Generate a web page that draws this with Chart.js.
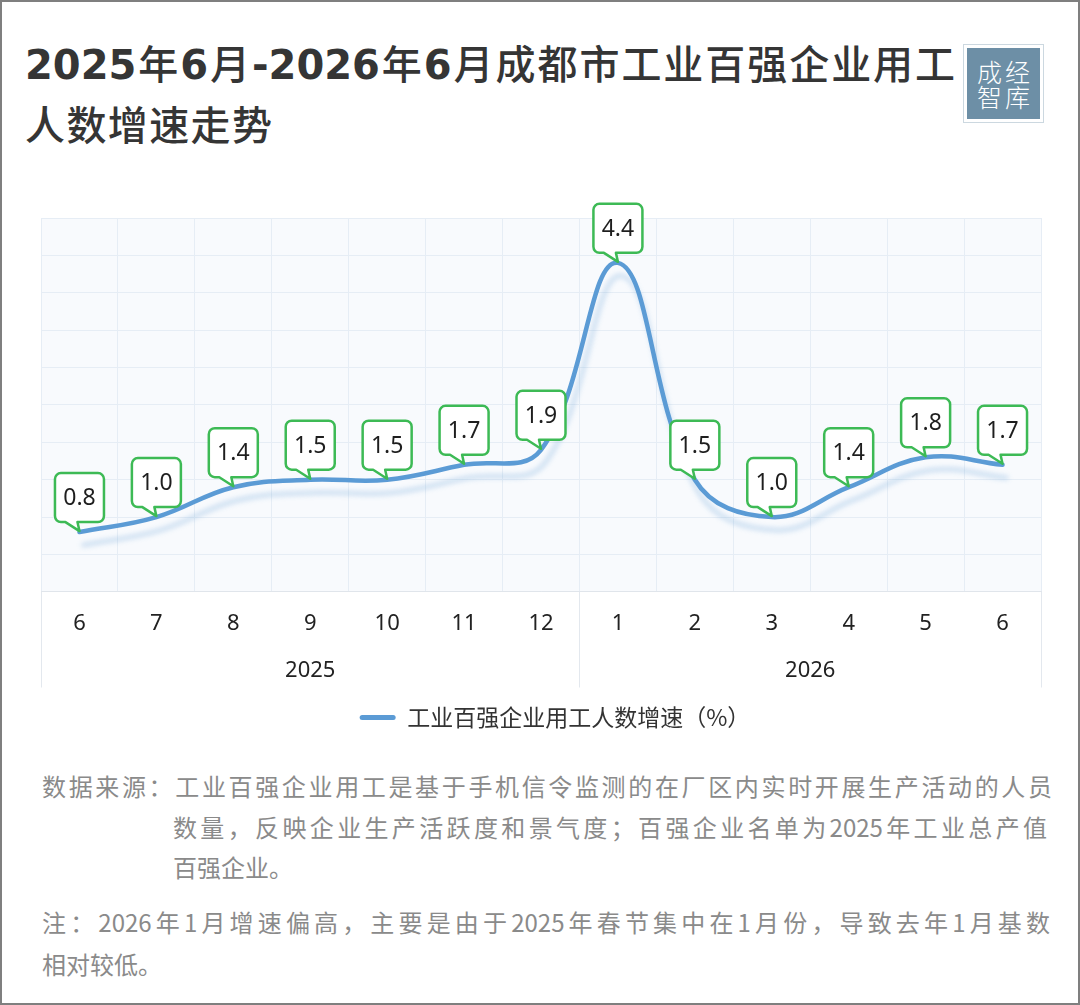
<!DOCTYPE html>
<html><head><meta charset="utf-8">
<script src="https://cdn.jsdelivr.net/npm/chart.js@4.4.1/dist/chart.umd.min.js"></script>
<style>
html,body{margin:0;padding:0;background:#fff;}
#frame{position:relative;width:1080px;height:1005px;overflow:hidden;background:#fff;font-family:"Noto Sans CJK SC",sans-serif;}
#border{position:absolute;left:0;top:0;width:1080px;height:1005px;box-sizing:border-box;border:2px solid #7f7f7f;pointer-events:none;}
.t{position:absolute;left:25px;font-weight:500;font-size:40px;line-height:40px;color:#353535;white-space:nowrap;text-align:justify;text-align-last:justify;font-family:"Noto Sans CJK SC",sans-serif;}
.t .d{font-family:"DejaVu Sans",sans-serif;font-weight:700;}
.n{position:absolute;font-size:24px;line-height:30px;color:#8a8a8a;white-space:nowrap;font-family:"Noto Sans CJK SC",sans-serif;}
.j{text-align:justify;text-align-last:justify;}
#logo{position:absolute;left:967px;top:48px;width:73px;height:71px;background:#6d8fa6;color:#fff;font-size:25px;line-height:25px;text-align:center;box-sizing:border-box;padding-top:11px;letter-spacing:3px;text-indent:3px;font-weight:300;box-shadow:0 0 0 3px #fff,0 0 0 4px rgba(109,143,166,0.35);}
#chartBox{position:absolute;left:0;top:200px;width:1080px;height:539px;}
</style></head>
<body>
<div id="frame">
  <div class="t" style="top:42px;width:930px;"><span class="d">2025</span>年<span class="d">6</span>月<span class="d">-2026</span>年<span class="d">6</span>月成都市工业百强企业用工</div>
  <div class="t" style="top:103px;width:247px;">人数增速走势</div>
  <div id="logo"><div>成经</div><div>智库</div></div>
  <div id="chartBox"><canvas id="c"></canvas></div>
  <div class="n j" style="left:42px;top:771px;width:1010px;">数据来源：工业百强企业用工是基于手机信令监测的在厂区内实时开展生产活动的人员</div>
  <div class="n j" style="left:173px;top:812px;width:874px;">数量，反映企业生产活跃度和景气度；百强企业名单为2025年工业总产值</div>
  <div class="n" style="left:173px;top:852px;">百强企业。</div>
  <div class="n j" style="left:42px;top:907px;width:1008px;">注：2026年1月增速偏高，主要是由于2025年春节集中在1月份，导致去年1月基数</div>
  <div class="n" style="left:42px;top:949px;">相对较低。</div>
  <div id="border"></div>
</div>
<script>
// ---- data ----
const monthLabels = ['6','7','8','9','10','11','12','1','2','3','4','5','6'];
const yearLabels = ['2025','2026'];
const monthsPerYear = [7, 6];
const growthValues = [0.8, 1.0, 1.4, 1.5, 1.5, 1.7, 1.9, 4.4, 1.5, 1.0, 1.4, 1.8, 1.7];
const seriesName = '工业百强企业用工人数增速（%）';

// ---- derived year group positions (category index units) ----
const yearBounds = [-0.5];
monthsPerYear.forEach(n => yearBounds.push(yearBounds[yearBounds.length-1] + n));
const yearCenters = monthsPerYear.map((n,i) => (yearBounds[i] + yearBounds[i+1]) / 2);

const LINE = '#5b9bd5';
const GRID = '#e6edf5';

Chart.defaults.font.family = '"Noto Sans","Noto Sans CJK SC",sans-serif';

const bgPlugin = {
  id: 'bgFrame',
  afterLayout(chart){
    // nudge the legend slightly right, as in the original layout
    if (chart.legend) { chart.legend.left += 14; chart.legend.right += 14; }
  },
  beforeDraw(chart){
    const {ctx, chartArea:a} = chart;
    ctx.save();
    ctx.fillStyle = '#f8fafd';
    ctx.fillRect(a.left, a.top, a.right - a.left, a.bottom - a.top);
    ctx.restore();
  },
  afterDraw(chart){
    const {ctx, chartArea:a} = chart;
    const x2 = chart.scales.x2;
    ctx.save();
    ctx.strokeStyle = '#e3e8ee';
    ctx.lineWidth = 1;
    yearBounds.forEach(b => {
      const px = Math.round(x2.getPixelForValue(b)) + 0.5;
      ctx.beginPath();
      ctx.moveTo(px, a.bottom);
      ctx.lineTo(px, x2.bottom);
      ctx.stroke();
    });
    ctx.restore();
  }
};

const shadowPlugin = {
  id: 'lineShadow',
  beforeDatasetDraw(chart){
    const c = chart.ctx;
    c.save();
    c.shadowColor = 'rgba(91,155,213,0.28)';
    c.shadowBlur = 5;
    c.shadowOffsetX = 4;
    c.shadowOffsetY = 13;
  },
  afterDatasetDraw(chart){ chart.ctx.restore(); }
};

const calloutPlugin = {
  id: 'callouts',
  afterDatasetsDraw(chart){
    const ctx = chart.ctx;
    const meta = chart.getDatasetMeta(0);
    const vals = chart.data.datasets[0].data;
    meta.data.forEach((pt, i) => {
      const px = pt.x, py = pt.y;
      const w = 49, h = 49, r = 6, gap = 10;
      const bottom = py - gap, top = bottom - h, left = px - w/2, right = px + w/2;
      ctx.save();
      ctx.beginPath();
      ctx.moveTo(left + r, top);
      ctx.lineTo(right - r, top); ctx.arcTo(right, top, right, top + r, r);
      ctx.lineTo(right, bottom - r); ctx.arcTo(right, bottom, right - r, bottom, r);
      ctx.lineTo(px - 2, bottom); ctx.lineTo(px, py - 1); ctx.lineTo(px - 14, bottom);
      ctx.lineTo(left + r, bottom); ctx.arcTo(left, bottom, left, bottom - r, r);
      ctx.lineTo(left, top + r); ctx.arcTo(left, top, left + r, top, r);
      ctx.closePath();
      ctx.fillStyle = '#ffffff';
      ctx.fill();
      ctx.lineWidth = 2.5;
      ctx.lineJoin = 'round';
      ctx.strokeStyle = '#3dba55';
      ctx.stroke();
      ctx.fillStyle = '#1e1e1e';
      ctx.font = '23px "Noto Sans", sans-serif';
      ctx.textAlign = 'center';
      ctx.textBaseline = 'middle';
      ctx.fillText(vals[i].toFixed(1), px, top + h/2 + 1);
      ctx.restore();
    });
  }
};

new Chart(document.getElementById('c'), {
  type: 'line',
  data: {
    labels: monthLabels,
    datasets: [{
      label: seriesName,
      data: growthValues,
      borderColor: LINE,
      backgroundColor: LINE,
      borderWidth: 4.5,
      borderCapStyle: 'round',
      tension: 0.4,
      pointRadius: 0,
      pointHoverRadius: 0,
      fill: false,
      clip: false
    }]
  },
  options: {
    responsive: true,
    maintainAspectRatio: false,
    animation: false,
    devicePixelRatio: 1,
    layout: { padding: { top: 18, left: 41, right: 39, bottom: 0 } },
    plugins: {
      tooltip: { enabled: false },
      legend: {
        position: 'bottom',
        labels: {
          padding: 18.5,
          boxWidth: 36,
          boxHeight: 5,
          useBorderRadius: true,
          borderRadius: 2.5,
          color: '#333',
          font: { size: 23, family: '"Noto Sans CJK SC",sans-serif' },
          generateLabels: (chart) => Chart.defaults.plugins.legend.labels.generateLabels(chart)
            .map(l => Object.assign(l, { lineWidth: 0, fillStyle: LINE, strokeStyle: LINE }))
        }
      }
    },
    scales: {
      x: {
        type: 'category',
        offset: true,
        weight: 0,
        grid: { offset: true, drawTicks: false, color: GRID, lineWidth: 1 },
        border: { display: true, color: '#e0e5eb' },
        ticks: { padding: 18.2, color: '#222', font: { size: 22 }, maxRotation: 0, autoSkip: false }
      },
      x2: {
        type: 'linear',
        position: 'bottom',
        weight: 1,
        min: yearBounds[0],
        max: yearBounds[yearBounds.length-1],
        grid: { display: false, drawTicks: false },
        border: { display: false },
        afterBuildTicks: (s) => { s.ticks = yearCenters.map(v => ({ value: v })); },
        ticks: { padding: 3.2, color: '#222', font: { size: 22 }, maxRotation: 0, autoSkip: false,
                 callback: (v, i) => yearLabels[i] }
      },
      y: {
        min: 0, max: 5,
        ticks: { display: false, stepSize: 0.5 },
        grid: { color: GRID, drawTicks: false, lineWidth: 1 },
        border: { display: false }
      }
    }
  },
  plugins: [bgPlugin, shadowPlugin, calloutPlugin]
});
</script>
</body></html>
